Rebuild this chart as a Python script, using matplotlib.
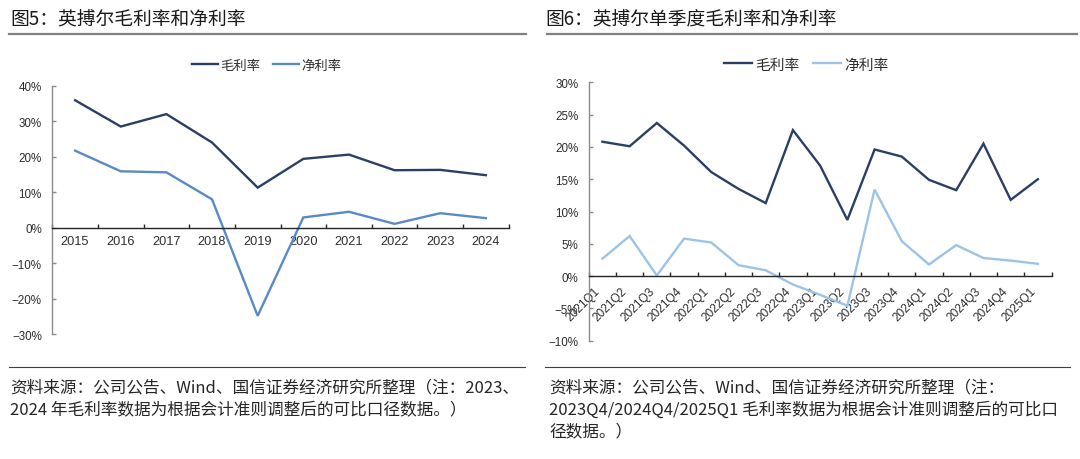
import matplotlib
matplotlib.use('Agg')
import matplotlib.pyplot as plt
from matplotlib import font_manager as fm
from matplotlib.lines import Line2D
import numpy as np

# ---------------- data ----------------
years = ['2015', '2016', '2017', '2018', '2019', '2020', '2021', '2022', '2023', '2024']
annual_gross = [35.9, 28.5, 32.0, 24.0, 11.3, 19.4, 20.6, 16.2, 16.3, 14.8]
annual_net = [21.7, 15.9, 15.6, 8.0, -24.8, 2.9, 4.5, 1.1, 4.1, 2.7]

quarters = ['2021Q1', '2021Q2', '2021Q3', '2021Q4', '2022Q1', '2022Q2', '2022Q3',
            '2022Q4', '2023Q1', '2023Q2', '2023Q3', '2023Q4', '2024Q1', '2024Q2',
            '2024Q3', '2024Q4', '2025Q1']
q_gross = [20.8, 20.1, 23.7, 20.2, 16.1, 13.5, 11.3, 22.6, 17.1, 8.7, 19.6, 18.5,
           14.9, 13.3, 20.5, 11.8, 15.0]
q_net = [2.7, 6.2, 0.1, 5.8, 5.2, 1.7, 0.9, -1.3, -2.9, -4.6, 13.4, 5.4, 1.8, 4.8,
         2.8, 2.4, 1.9]

left_yticks = [-30, -20, -10, 0, 10, 20, 30, 40]
right_yticks = [-10, -5, 0, 5, 10, 15, 20, 25, 30]

series_names = ['毛利率', '净利率']
title_left = '图5：英搏尔毛利率和净利率'
title_right = '图6：英搏尔单季度毛利率和净利率'
foot_left = ['资料来源：公司公告、Wind、国信证券经济研究所整理（注：2023、',
             '2024 年毛利率数据为根据会计准则调整后的可比口径数据。）']
foot_right = ['资料来源：公司公告、Wind、国信证券经济研究所整理（注：',
              '2023Q4/2024Q4/2025Q1 毛利率数据为根据会计准则调整后的可比口',
              '径数据。）']

# ---------------- style ----------------
CJK = ['Noto Sans CJK SC', 'DejaVu Sans']
names = {f.name for f in fm.fontManager.ttflist}
if 'Liberation Sans Narrow' in names:
    NUM = ['Liberation Sans Narrow', 'DejaVu Sans']
    year_fs, ytick_fs, rot_fs = 10.2, 9.0, 9.2
else:
    NUM = ['Liberation Sans', 'DejaVu Sans']
    year_fs, ytick_fs, rot_fs = 9.2, 8.4, 8.6

C_GROSS = '#2B3E64'
C_NET_L = '#5A8AC6'
C_NET_R = '#9DC3E6'
C_YAXIS = '#8C8C8C'
C_XAXIS = '#262626'
C_TEXT = '#2E2E2E'

W, H = 1080, 460
fig = plt.figure(figsize=(W / 100, H / 100), dpi=100)
fig.patch.set_facecolor('white')


def fx(px):
    return px / W


def fy(py):
    return 1 - py / H


def add_axes_px(x0, x1, ytop, ybot):
    return fig.add_axes([fx(x0), fy(ybot), fx(x1) - fx(x0), (ybot - ytop) / H])


def pct(v):
    return ('\u2212' if v < 0 else '') + f'{abs(v)}%'


def style_axes(ax, cats, yticks, rotated):
    n = len(cats)
    ax.set_xlim(-0.5, n - 0.5)
    ax.set_ylim(yticks[0], yticks[-1])
    for s in ('top', 'right'):
        ax.spines[s].set_visible(False)
    ax.spines['bottom'].set_position(('data', 0))
    ax.spines['bottom'].set_color(C_XAXIS)
    ax.spines['bottom'].set_linewidth(1.0)
    ax.spines['left'].set_color(C_YAXIS)
    ax.spines['left'].set_linewidth(1.0)
    ax.set_xticks(np.arange(-0.5, n, 1.0))
    ax.set_xticklabels([])
    ax.set_xticks(np.arange(n), minor=True)
    ax.tick_params(axis='x', which='major', direction='in', length=3.0,
                   width=1.0, color=C_XAXIS)
    if rotated:
        ax.set_xticklabels(cats, minor=True, rotation=45, ha='right', va='top',
                           fontfamily=NUM, fontsize=rot_fs, color=C_TEXT)
        ax.tick_params(axis='x', which='minor', length=0, pad=6.0)
    else:
        ax.set_xticklabels(cats, minor=True, fontfamily=NUM, fontsize=year_fs,
                           color=C_TEXT)
        ax.tick_params(axis='x', which='minor', length=0, pad=5.5)
    ax.set_yticks(yticks)
    ax.set_yticklabels([pct(v) for v in yticks], fontfamily=NUM,
                       fontsize=ytick_fs, color=C_TEXT)
    ax.tick_params(axis='y', direction='in', length=3.0, width=1.0,
                   color=C_YAXIS, pad=7.5)
    ax.set_facecolor('none')


# ---------------- left chart ----------------
axL = add_axes_px(52.3, 508.7, 86.7, 335.3)
xl = np.arange(len(years))
l1, = axL.plot(xl, annual_gross, color=C_GROSS, lw=1.7, solid_joinstyle='miter')
l2, = axL.plot(xl, annual_net, color=C_NET_L, lw=1.7, solid_joinstyle='miter')
style_axes(axL, years, left_yticks, rotated=False)
axL.legend([l1, l2], series_names, loc='center', ncol=2, frameon=False,
           bbox_to_anchor=(fx(267), fy(65.5)), bbox_transform=fig.transFigure,
           handlelength=1.92, handletextpad=0.2, columnspacing=0.95,
           borderpad=0, borderaxespad=0,
           prop=fm.FontProperties(family=CJK, size=9.6), labelcolor=C_TEXT)

# ---------------- right chart ----------------
axR = add_axes_px(588.8, 1051.5, 83.3, 341.7)
xr = np.arange(len(quarters))
r1, = axR.plot(xr, q_gross, color=C_GROSS, lw=1.7, solid_joinstyle='miter')
r2, = axR.plot(xr, q_net, color=C_NET_R, lw=1.7, solid_joinstyle='miter')
style_axes(axR, quarters, right_yticks, rotated=True)
axR.legend([r1, r2], series_names, loc='center', ncol=2, frameon=False,
           bbox_to_anchor=(fx(806), fy(65.5)), bbox_transform=fig.transFigure,
           handlelength=1.92, handletextpad=0.2, columnspacing=0.9,
           borderpad=0, borderaxespad=0,
           prop=fm.FontProperties(family=CJK, size=10.6), labelcolor=C_TEXT)

# ---------------- titles, rules, notes ----------------
fig.text(fx(10), fy(18.5), title_left, fontfamily=CJK, fontsize=13.5,
         color='#1A1A1A', va='center', ha='left')
fig.text(fx(545), fy(18.5), title_right, fontfamily=CJK, fontsize=13.5,
         color='#1A1A1A', va='center', ha='left')

for x0, x1 in ((9, 526), (547, 1077)):
    fig.add_artist(Line2D([fx(x0), fx(x1)], [fy(35), fy(35)],
                          transform=fig.transFigure, color='#808080', lw=1.6))
for x0, x1 in ((9, 525), (545, 1070)):
    fig.add_artist(Line2D([fx(x0), fx(x1)], [fy(367.7), fy(367.7)],
                          transform=fig.transFigure, color='#404040', lw=0.8))

line_y = [388, 410, 432]
for i, t in enumerate(foot_left):
    fig.text(fx(10), fy(line_y[i]), t, fontfamily=CJK, fontsize=12,
             color='#262626', va='center', ha='left')
for i, t in enumerate(foot_right):
    fig.text(fx(549), fy(line_y[i]), t, fontfamily=CJK, fontsize=12,
             color='#262626', va='center', ha='left')

fig.savefig('out.png', dpi=100, facecolor='white')
